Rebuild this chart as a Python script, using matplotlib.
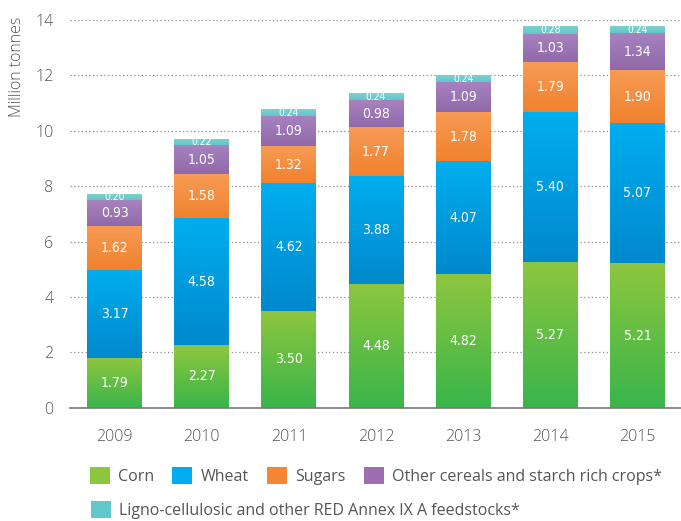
import numpy as np
import matplotlib.pyplot as plt
from matplotlib.colors import LinearSegmentedColormap

years = ['2009', '2010', '2011', '2012', '2013', '2014', '2015']
corn = [1.79, 2.27, 3.50, 4.48, 4.82, 5.27, 5.21]
wheat = [3.17, 4.58, 4.62, 3.88, 4.07, 5.40, 5.07]
sugars = [1.62, 1.58, 1.32, 1.77, 1.78, 1.79, 1.90]
other = [0.93, 1.05, 1.09, 0.98, 1.09, 1.03, 1.34]
ligno = [0.20, 0.22, 0.24, 0.24, 0.24, 0.28, 0.24]

series = [
    ('Corn', corn, '#8dc63f', ('#8dc63f', '#39b54a')),
    ('Wheat', wheat, '#00aeef', ('#00aeef', '#0089cc')),
    ('Sugars', sugars, '#f58634', ('#f79b55', '#f0822e')),
    ('Other cereals and starch rich crops*', other, '#9b6fb0', ('#a883c0', '#9169a9')),
    ('Ligno-cellulosic and other RED Annex IX A feedstocks*', ligno, '#62c9cb', ('#7dd0d0', '#62c8c8')),
]

text_grey = '#555555'
font = 'Open Sans'
label_font = ['Liberation Sans Narrow', 'DejaVu Sans']

fig = plt.figure(figsize=(6.81, 5.21), dpi=100)
ax = fig.add_axes([0.103, 0.217, 0.897, 0.745])

x = np.arange(len(years))
width = 0.63
bottom = np.zeros(len(years))
containers = []
for name, vals, col, grad in series:
    vals = np.array(vals)
    bars = ax.bar(x, vals, width, bottom=bottom, color=col, label=name, zorder=2, linewidth=0)
    containers.append(bars)
    cmap = LinearSegmentedColormap.from_list(name, [grad[1], grad[0]])
    grad_img = np.linspace(0, 1, 64).reshape(-1, 1)
    for patch, v, b in zip(bars, vals, bottom):
        x0, y0 = patch.get_x(), patch.get_y()
        im = ax.imshow(grad_img, cmap=cmap, origin='lower', aspect='auto',
                       extent=[x0, x0 + patch.get_width(), y0, y0 + patch.get_height()],
                       zorder=3)
        im.set_clip_path(patch)
        fs = 7.5 if name.startswith('Ligno') else 10
        ax.text(x0 + patch.get_width() / 2, b + v / 2, f'{v:.2f}', ha='center', va='center',
                color='white', fontsize=fs, family=label_font, fontstretch='condensed', zorder=4)
    bottom = bottom + vals

ax.set_xlim(-0.51, 6.5)
ax.set_ylim(0, 14)
ax.set_yticks(range(0, 15, 2))
ax.set_xticks(x)
ax.set_xticklabels(years)
for s in ['top', 'right', 'left']:
    ax.spines[s].set_visible(False)
ax.spines['bottom'].set_color('#777777')
ax.spines['bottom'].set_linewidth(1.2)
ax.spines['bottom'].set_zorder(5)
for yv in range(2, 15, 2):
    ax.axhline(yv, color='#8c8c8c', linestyle=(0, (1, 2)), linewidth=0.9, zorder=1)
ax.tick_params(axis='both', length=0, labelsize=11.5, labelcolor=text_grey)
ax.tick_params(axis='y', pad=12)
ax.tick_params(axis='x', pad=15)
for lab in ax.get_xticklabels() + ax.get_yticklabels():
    lab.set_family(font)
    lab.set_fontweight('light')

fig.text(0.025, 1 - 67 / 521, 'Million tonnes', rotation=90, ha='center', va='center',
         fontsize=11.5, color=text_grey, family=font, fontweight='light')

handles = [c.patches[0] for c in containers]
leg_kw = dict(frameon=False, handlelength=1.25, handleheight=1.3,
              handletextpad=0.5, borderpad=0, borderaxespad=0, prop={'family': font, 'size': 11.5})
leg1 = fig.legend(handles[:4], [s[0] for s in series[:4]], ncol=4, loc='center left',
                  bbox_to_anchor=(90 / 681, 1 - 476 / 521), columnspacing=1.15, **leg_kw)
leg2 = fig.legend(handles[4:], [series[4][0]], ncol=1, loc='center left',
                  bbox_to_anchor=(91 / 681, 1 - 510 / 521), **leg_kw)
for leg, names in [(leg1, series[:4]), (leg2, series[4:])]:
    for h, s in zip(leg.legend_handles, names):
        h.set_color(s[2])
    for t in leg.get_texts():
        t.set_color(text_grey)

fig.savefig('out.png', dpi=100)
